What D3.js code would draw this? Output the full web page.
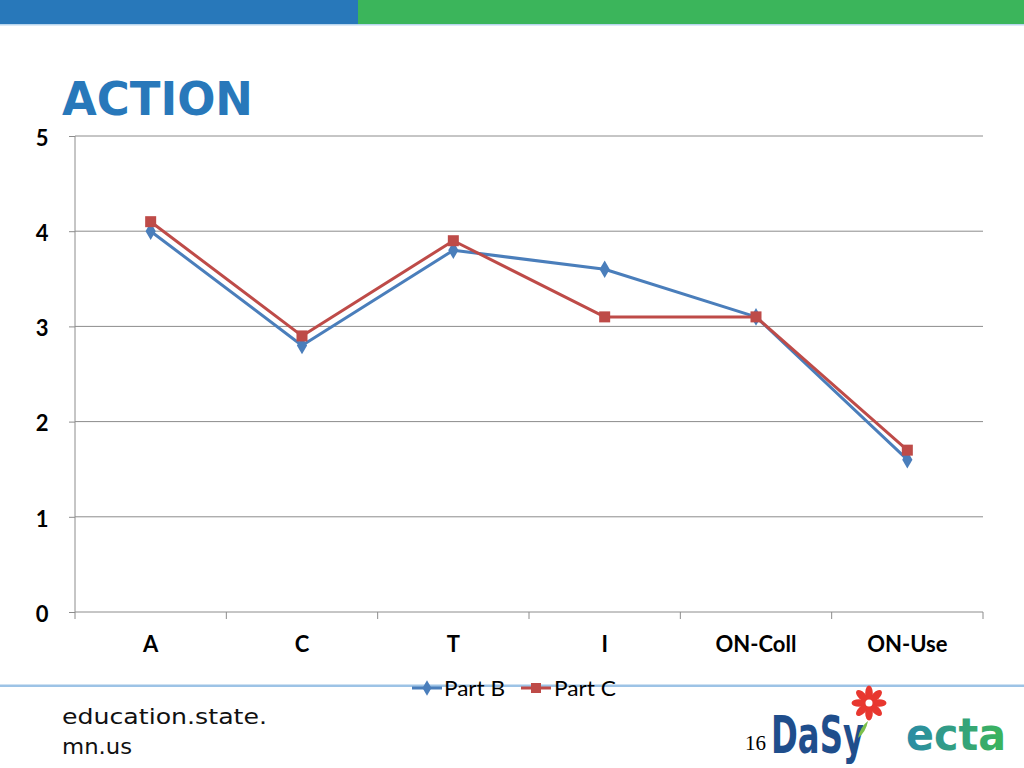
<!DOCTYPE html>
<html><head><meta charset="utf-8">
<script src="https://cdn.jsdelivr.net/npm/d3@7"></script>
<style>body{margin:0;background:#fff;}svg{display:block;}</style>
</head><body>
<svg id="c" width="1024" height="768"></svg>
<script>
const categories = ["A","C","T","I","ON-Coll","ON-Use"];
const partB = [4.0, 2.8, 3.8, 3.6, 3.1, 1.6];
const partC = [4.1, 2.9, 3.9, 3.1, 3.1, 1.7];
const yTicks = [0,1,2,3,4,5];
const seriesNames = ["Part B","Part C"];

(function(){
const svg = d3.select("#c");
svg.append("rect").attr("x",0).attr("y",0).attr("width",358).attr("height",25).attr("fill","#2878BA");
svg.append("rect").attr("x",358).attr("y",0).attr("width",666).attr("height",25).attr("fill","#3BB55B");
svg.append("rect").attr("x",0).attr("y",24).attr("width",1024).attr("height",1.5).attr("fill","#b9d6ee");

svg.append("text").attr("x",62).attr("y",115).text("ACTION")
  .attr("font-family","'DejaVu Sans', sans-serif").attr("font-weight","bold")
  .attr("font-size",47).attr("fill","#2878BA").attr("textLength",191).attr("lengthAdjust","spacingAndGlyphs");

const pL=75,pR=983,pT=136,pB=612;
const x = d3.scaleBand().domain(categories).range([pL,pR]);
const y = d3.scaleLinear().domain([0,5]).range([pB,pT]);

svg.append("g").selectAll("line").data(yTicks.filter(d=>d>0)).join("line")
  .attr("x1",pL).attr("x2",pR).attr("y1",d=>y(d)).attr("y2",d=>y(d))
  .attr("stroke","#8c8c8c").attr("stroke-width",1);

const ya = svg.append("g").attr("transform",`translate(${pL},0)`)
  .call(d3.axisLeft(y).tickValues(yTicks).tickSize(6).tickFormat(d3.format("d")));
ya.select(".domain").attr("stroke","#8c8c8c").attr("d",`M0,${pT}V${pB}`);
ya.selectAll(".tick line").attr("stroke","#8c8c8c");
ya.selectAll(".tick text").attr("x",-33).attr("text-anchor","middle").attr("dy","0.42em")
  .attr("font-family","Lato, 'Open Sans', sans-serif").attr("font-weight","bold").attr("font-size",22).attr("fill","#000");

const xa = svg.append("g").attr("transform",`translate(0,${pB})`)
  .call(d3.axisBottom(x).tickSize(0).tickPadding(29));
xa.select(".domain").attr("stroke","#8c8c8c").attr("d",`M${pL},0H${pR}`);
xa.selectAll(".tick text").attr("font-family","Lato, 'Open Sans', sans-serif").attr("font-weight","bold")
  .attr("font-size",22).attr("fill","#000").attr("dy","0.5em");
const bounds = categories.map(c=>x(c)).concat([pR]);
svg.append("g").selectAll("line").data(bounds).join("line")
  .attr("x1",d=>d).attr("x2",d=>d).attr("y1",pB).attr("y2",pB+7).attr("stroke","#8c8c8c");

const cx = c => x(c)+x.bandwidth()/2;
const line = d3.line().x((d,i)=>cx(categories[i])).y(d=>y(d));
const colB="#4A7EBB", colC="#BE4B48";
svg.append("path").datum(partB).attr("d",line).attr("fill","none").attr("stroke",colB).attr("stroke-width",3).attr("stroke-linejoin","round");
svg.append("g").selectAll("path").data(partB).join("path")
  .attr("d",d3.symbol(d3.symbolDiamond,90)).attr("transform",(d,i)=>`translate(${cx(categories[i])},${y(d)})`).attr("fill",colB);
svg.append("path").datum(partC).attr("d",line).attr("fill","none").attr("stroke",colC).attr("stroke-width",3).attr("stroke-linejoin","round");
svg.append("g").selectAll("rect").data(partC).join("rect")
  .attr("x",(d,i)=>cx(categories[i])-5.5).attr("y",d=>y(d)-5.5).attr("width",11).attr("height",11).attr("fill",colC);

svg.append("rect").attr("x",0).attr("y",684.5).attr("width",1024).attr("height",2.5).attr("fill","#9DC3E6");

const lg = svg.append("g");
lg.append("line").attr("x1",412).attr("x2",442).attr("y1",688).attr("y2",688).attr("stroke",colB).attr("stroke-width",3);
lg.append("path").attr("d",d3.symbol(d3.symbolDiamond,70)).attr("transform","translate(427,688)").attr("fill",colB);
lg.append("text").attr("x",444).attr("y",696).text(seriesNames[0]).attr("font-family","Lato, 'Open Sans', sans-serif").attr("font-size",21).attr("fill","#000").attr("textLength",61).attr("lengthAdjust","spacingAndGlyphs");
lg.append("line").attr("x1",521).attr("x2",551).attr("y1",688).attr("y2",688).attr("stroke",colC).attr("stroke-width",3);
lg.append("rect").attr("x",531).attr("y",683).attr("width",10).attr("height",10).attr("fill",colC);
lg.append("text").attr("x",554).attr("y",696).text(seriesNames[1]).attr("font-family","Lato, 'Open Sans', sans-serif").attr("font-size",21).attr("fill","#000").attr("textLength",62).attr("lengthAdjust","spacingAndGlyphs");

svg.append("text").attr("x",62).attr("y",724).text("education.state.").attr("font-family","'DejaVu Sans', sans-serif").attr("font-size",22).attr("fill","#111").attr("textLength",205).attr("lengthAdjust","spacingAndGlyphs");
svg.append("text").attr("x",62).attr("y",754).text("mn.us").attr("font-family","'DejaVu Sans', sans-serif").attr("font-size",22).attr("fill","#111").attr("textLength",70).attr("lengthAdjust","spacingAndGlyphs");
svg.append("text").attr("x",745).attr("y",750).text("16").attr("font-family","'Liberation Serif', serif").attr("font-size",21).attr("fill","#000");

svg.append("text").attr("x",771).attr("y",753).text("DaSy").attr("font-family","'Liberation Sans Narrow','DejaVu Sans Condensed', sans-serif")
  .attr("font-weight","bold").attr("font-size",52).attr("fill","#1F4E8C").attr("textLength",93).attr("lengthAdjust","spacingAndGlyphs");
const fl = svg.append("g").attr("transform","translate(869,703)");
for(let k=0;k<8;k++){
  fl.append("ellipse").attr("cx",0).attr("cy",-10).attr("rx",3.8).attr("ry",7.5).attr("fill","#E8372F").attr("transform",`rotate(${k*45})`);
}
fl.append("circle").attr("r",3.5).attr("fill","#fff");
svg.append("path").attr("d","M858,738 Q860,727 868,721 Q866,732 858,738Z").attr("fill","#7CC04A");

const gd = svg.append("defs").append("linearGradient").attr("id","eg").attr("x1","0").attr("x2","1");
gd.append("stop").attr("offset","0").attr("stop-color","#2A8BA6");
gd.append("stop").attr("offset","1").attr("stop-color","#3CB55A");
svg.append("text").attr("x",906).attr("y",750).text("ecta").attr("font-family","'DejaVu Sans', sans-serif")
  .attr("font-weight","bold").attr("font-size",44).attr("fill","url(#eg)").attr("textLength",100).attr("lengthAdjust","spacingAndGlyphs");
})();
</script>
</body></html>
